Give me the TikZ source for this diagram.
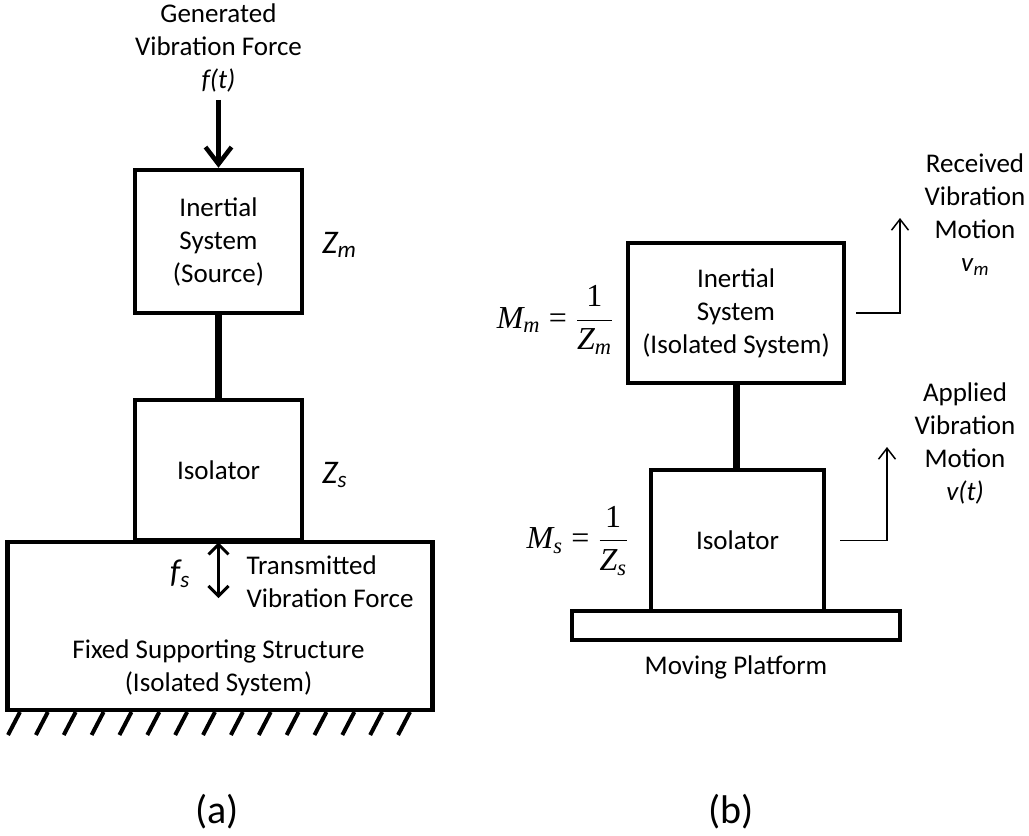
\RequirePackage{fix-cm}
\documentclass[tikz,border=0pt]{standalone}
\usepackage{amsmath}
\usepackage{fontspec}
\setmainfont{Carlito}
\newfontfamily\eqserif{Liberation Serif}
\usepackage{tikz}
\usetikzlibrary{arrows.meta,positioning,calc}
\newcommand{\figfont}{\fontsize{27}{33}\selectfont}
\newcommand{\zfont}{\fontsize{33}{36}\selectfont\itshape}
\newcommand{\capfont}{\fontsize{40}{48}\selectfont}
\newcommand{\eqfont}{\fontsize{32}{36}\selectfont}
% serif letters for the mobility formulas
\newcommand{\ev}[1]{\text{\eqserif\itshape #1}}
\newcommand{\eu}[1]{\text{\eqserif #1}}

\begin{document}
\begin{tikzpicture}[x=1pt, y=-1pt,
      blk/.style={rectangle, draw=black, line width=4.5pt, fill=white,
                  inner sep=0pt, align=center, font=\figfont},
      txt/.style={font=\figfont, align=center},
      link/.style={line width=7pt},
      force/.style={-{Straight Barb[length=17pt, width=26pt]}, line width=4.5pt},
      trans/.style={{Straight Barb[length=10pt, width=20pt]}-{Straight Barb[length=10pt, width=20pt]},
                    line width=3pt},
      motion/.style={-{Straight Barb[length=11pt, width=17pt]}, line width=1.5pt},
      hatch/.style={line width=4pt},
    ]
      \useasboundingbox (0,0) rectangle (1029,836);
      %% (a) source on a fixed structure
      \node[txt] (gen) at (218.5,48) {Generated\\Vibration Force\\\textit{f(t)}};
      \node[blk, minimum width=167pt, minimum height=143pt] (inert_a)
            at (218.5,241.5) {Inertial\\System\\(Source)};
      \node[blk, minimum width=167pt, minimum height=140pt] (iso_a)
            at (218.5,470) {Isolator};
      \node[blk, minimum width=425pt, minimum height=168pt] (supp)
            at (220,626) {};
      \draw[force, shorten <=4pt] (gen.south) -- (inert_a.north);
      \draw[link] (inert_a.south) -- (iso_a.north);
      \node[font=\zfont, anchor=base west, inner sep=0pt] (zm) at (322,253)
            {Z\textsubscript{m}};
      \node[font=\zfont, anchor=base west, inner sep=0pt] (zs) at (322,483)
            {Z\textsubscript{s}};
      %% transmitted force
      \coordinate (fs_end) at (218.5,598);
      \draw[trans] (iso_a.south) -- (fs_end);
      \node[font=\zfont, inner sep=0pt] (fs) at (180,574) {f\textsubscript{s}};
      \node[txt, align=left, anchor=west] (fs_lbl) at (243,582)
            {Transmitted\\Vibration Force};
      \node[txt] (supp_lbl) at (218.5,668)
            {Fixed Supporting Structure\\(Isolated System)};
      %% ground hatching
      \foreach \k in {0,...,14}{
        \draw[hatch] ({20+27.86*\k},712) -- ++(-12,23);
      }
      \node[font=\capfont] (cap_a) at (217,812) {(a)};
      %% (b) isolated system on a moving platform
      \node[blk, minimum width=216pt, minimum height=140pt] (inert_b)
            at (736,313) {Inertial\\System\\(Isolated System)};
      \node[blk, minimum width=173pt, minimum height=141pt] (iso_b)
            at (737.5,540.5) {Isolator};
      \node[blk, minimum width=328pt, minimum height=29pt] (plat)
            at (736,625.5) {};
      \draw[link] (inert_b.south) -- (inert_b.south |- iso_b.north);
      \node[txt] (plat_lbl) at (736,667) {Moving Platform};
      \node[font=\eqfont, anchor=east, inner sep=0pt] (mm_eq) at (613,320)
            {$\ev{M}_{\ev{m}}\;\eu{=}\;\dfrac{\eu{1}}{\ev{Z}_{\ev{m}}}$};
      \node[font=\eqfont, anchor=east, inner sep=0pt] (ms_eq) at (628,541)
            {$\ev{M}_{\ev{s}}\;\eu{=}\;\dfrac{\eu{1}}{\ev{Z}_{\ev{s}}}$};
      %% received and applied motion
      \coordinate (recv_tip) at (900,218);
      \draw[motion, shorten <=10pt] (inert_b.east) -| (recv_tip);
      \node[txt] (recv) at (975,215)
            {Received\\Vibration\\Motion\\\textit{v}\textsubscript{\textit{m}}};
      \coordinate (appl_tip) at (887,447);
      \draw[motion, shorten <=14pt] (iso_b.east) -| (appl_tip);
      \node[txt] (appl) at (965,443)
            {Applied\\Vibration\\Motion\\\textit{v(t)}};
      \node[font=\capfont] (cap_b) at (731,812) {(b)};
    \end{tikzpicture}
\end{document}
